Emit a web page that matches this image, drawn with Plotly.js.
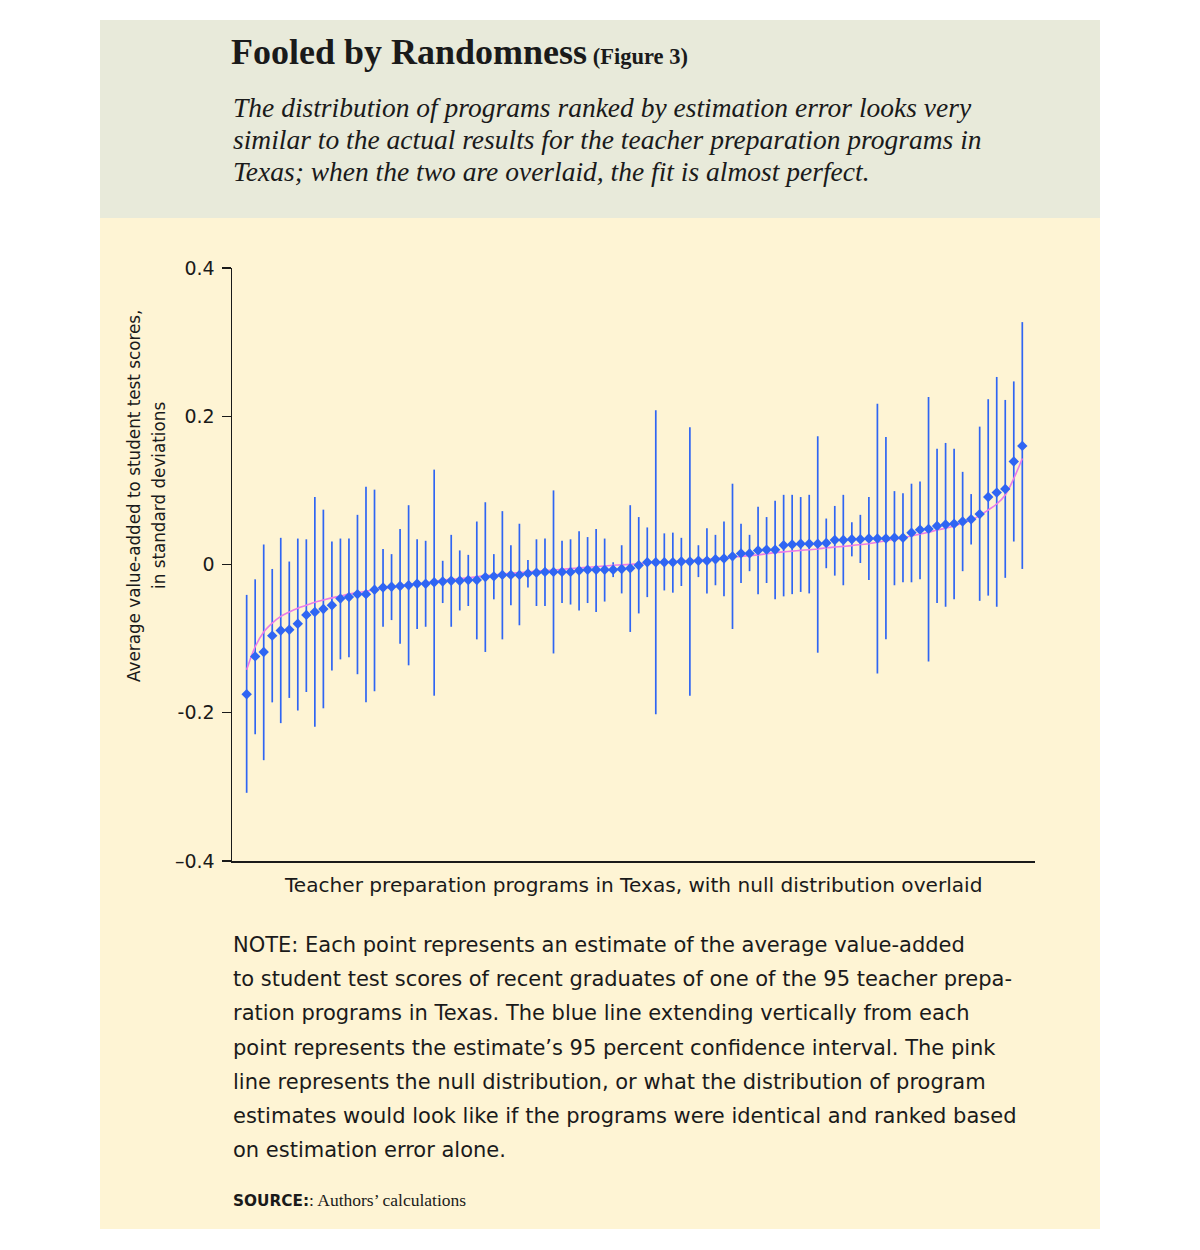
<!DOCTYPE html>
<html>
<head>
<meta charset="utf-8">
<script src="https://cdn.plot.ly/plotly-3.0.1.min.js"></script>
<style>
  html, body { margin: 0; padding: 0; background: #ffffff; }
  #chart { width: 1200px; height: 1250px; }
</style>
</head>
<body>
<div id="chart"></div>
<script>
// ---- Data (95% CI per program, ranked) ----
const programRank = Array.from({length: 92}, (_, i) => i + 1);

const estimate = [
  -0.175, -0.124, -0.118, -0.096, -0.089, -0.088, -0.080, -0.068, -0.064, -0.060,
  -0.055, -0.046, -0.044, -0.040, -0.040, -0.034, -0.031, -0.030, -0.029, -0.028,
  -0.026, -0.026, -0.024, -0.023, -0.022, -0.022, -0.021, -0.021, -0.017, -0.016,
  -0.014, -0.014, -0.014, -0.012, -0.011, -0.010, -0.010, -0.010, -0.010, -0.008,
  -0.007, -0.007, -0.007, -0.007, -0.006, -0.005, -0.001, 0.003, 0.003, 0.003,
  0.003, 0.004, 0.004, 0.005, 0.005, 0.007, 0.008, 0.011, 0.015, 0.015,
  0.019, 0.020, 0.020, 0.026, 0.027, 0.028, 0.028, 0.028, 0.029, 0.033,
  0.033, 0.034, 0.034, 0.035, 0.035, 0.035, 0.036, 0.036, 0.043, 0.047,
  0.048, 0.052, 0.054, 0.055, 0.058, 0.061, 0.068, 0.091, 0.097, 0.102,
  0.139, 0.160
];

const ciUpper = [
  -0.041, -0.020, 0.027, -0.006, 0.036, 0.004, 0.035, 0.034, 0.091, 0.074,
  0.031, 0.035, 0.035, 0.067, 0.105, 0.101, 0.021, 0.014, 0.048, 0.080,
  0.034, 0.032, 0.128, 0.005, 0.040, 0.019, 0.013, 0.058, 0.084, 0.014,
  0.072, 0.026, 0.055, 0.006, 0.034, 0.035, 0.100, 0.032, 0.034, 0.045,
  0.037, 0.048, 0.035, 0.003, 0.026, 0.080, 0.064, 0.050, 0.208, 0.042,
  0.043, 0.036, 0.185, 0.026, 0.049, 0.040, 0.058, 0.109, 0.055, 0.040,
  0.078, 0.064, 0.086, 0.094, 0.094, 0.091, 0.094, 0.173, 0.062, 0.079,
  0.094, 0.057, 0.067, 0.091, 0.217, 0.172, 0.099, 0.096, 0.109, 0.112,
  0.226, 0.156, 0.164, 0.156, 0.125, 0.095, 0.186, 0.223, 0.253, 0.222,
  0.247, 0.327
];

const ciLower = [
  -0.308, -0.229, -0.264, -0.186, -0.214, -0.180, -0.197, -0.172, -0.219, -0.194,
  -0.143, -0.128, -0.125, -0.148, -0.186, -0.171, -0.084, -0.075, -0.107, -0.136,
  -0.087, -0.084, -0.177, -0.052, -0.084, -0.062, -0.056, -0.101, -0.118, -0.047,
  -0.101, -0.055, -0.082, -0.031, -0.056, -0.056, -0.120, -0.052, -0.054, -0.062,
  -0.052, -0.064, -0.050, -0.017, -0.039, -0.091, -0.066, -0.044, -0.202, -0.035,
  -0.038, -0.029, -0.177, -0.017, -0.039, -0.028, -0.043, -0.087, -0.025, -0.009,
  -0.040, -0.025, -0.047, -0.043, -0.040, -0.037, -0.039, -0.119, -0.005, -0.015,
  -0.028, 0.011, 0.002, -0.021, -0.147, -0.101, -0.028, -0.024, -0.024, -0.020,
  -0.131, -0.052, -0.057, -0.047, -0.009, 0.027, -0.049, -0.042, -0.057, -0.018,
  0.031, -0.006
];

const nullDistribution = [
  -0.142, -0.111, -0.091, -0.079, -0.070, -0.064, -0.059, -0.055, -0.051, -0.048,
  -0.045, -0.0425, -0.040, -0.038, -0.036, -0.034, -0.032, -0.031, -0.029, -0.027,
  -0.026, -0.025, -0.023, -0.021, -0.020, -0.019, -0.018, -0.0165, -0.015, -0.014,
  -0.0128, -0.012, -0.011, -0.010, -0.009, -0.0083, -0.0075, -0.0065, -0.0055, -0.0047,
  -0.0038, -0.003, -0.002, -0.001, -0.0005, 0.0002, 0.001, 0.002, 0.003, 0.0034,
  0.004, 0.0048, 0.0055, 0.006, 0.007, 0.008, 0.009, 0.0097, 0.011, 0.012,
  0.013, 0.0145, 0.016, 0.017, 0.018, 0.019, 0.020, 0.021, 0.0225, 0.0236,
  0.0245, 0.0255, 0.027, 0.028, 0.030, 0.032, 0.034, 0.036, 0.0385, 0.041,
  0.0435, 0.0465, 0.049, 0.052, 0.056, 0.060, 0.066, 0.0735, 0.0816, 0.0938,
  0.116, 0.143
];

const yTickVals = [-0.4, -0.2, 0, 0.2, 0.4];
const yTickText = ['\u20130.4', '-0.2', '0', '0.2', '0.4'];

const titleMain = 'Fooled by Randomness';
const titleFig = '(Figure 3)';
const subtitleLines = [
  'The distribution of programs ranked by estimation error looks very',
  'similar to the actual results for the teacher preparation programs in',
  'Texas; when the two are overlaid, the fit is almost perfect.'
];
const yTitleLines = ['Average value-added to student test scores,', 'in standard deviations'];
const xTitle = 'Teacher preparation programs in Texas, with null distribution overlaid';
const noteLines = [
  'NOTE: Each point represents an estimate of the average value-added',
  'to student test scores of recent graduates of one of the 95 teacher prepa-',
  'ration programs in Texas. The blue line extending vertically from each',
  'point represents the estimate\u2019s 95 percent confidence interval. The pink',
  'line represents the null distribution, or what the distribution of program',
  'estimates would look like if the programs were identical and ranked based',
  'on estimation error alone.'
];
const sourceLabel = 'SOURCE:';
const sourceText = ': Authors\u2019 calculations';

// ---- Layout geometry (pixels) ----
const W = 1200, H = 1250;
const L = 232, R = 1035, T = 268, B = 861;
const PW = R - L, PH = B - T;
const px = x => (x - L) / PW;
const py = y => (B - y) / PH;

const BLUE = '#2f65f3';
const PINK = '#e97ce9';
const SANS = '"DejaVu Sans", Roboto, sans-serif';
const SERIF = '"Liberation Serif", "DejaVu Serif", serif';
const INK = '#1a1a1a';

const errPlus = estimate.map((v, i) => ciUpper[i] - v);
const errMinus = estimate.map((v, i) => v - ciLower[i]);

const traces = [
  {
    type: 'scatter', mode: 'markers', x: programRank, y: estimate,
    marker: {size: 1, opacity: 0, color: BLUE},
    error_y: {type: 'data', symmetric: false, array: errPlus, arrayminus: errMinus,
              color: BLUE, thickness: 1.7, width: 0},
    hoverinfo: 'skip', showlegend: false
  },
  {
    type: 'scatter', mode: 'lines', x: programRank, y: nullDistribution,
    line: {color: PINK, width: 1.6, shape: 'spline', smoothing: 1},
    showlegend: false
  },
  {
    type: 'scatter', mode: 'markers', x: programRank, y: estimate,
    marker: {symbol: 'diamond', size: 8, color: BLUE, line: {width: 0}},
    showlegend: false
  }
];

function ann(text, x, y, opts) {
  return Object.assign({
    xref: 'paper', yref: 'paper', x: px(x), y: py(y), text: text,
    showarrow: false, xanchor: 'left', yanchor: 'middle',
    font: {family: SANS, size: 19, color: INK}
  }, opts || {});
}

const annotations = [];
annotations.push(ann('<b>' + titleMain + '</b><span style="font-size:22.5px"><b> ' + titleFig + '</b></span>', 229, 52,
  {font: {family: SERIF, size: 36, color: INK}}));
subtitleLines.forEach((t, i) => {
  annotations.push(ann('<i>' + t + '</i>', 231, 107 + i * 32.5,
    {font: {family: SERIF, size: 27.5, color: INK}}));
});
annotations.push(ann(yTitleLines[0], 134, 496,
  {xanchor: 'center', textangle: -90, font: {family: SANS, size: 16.8, color: INK}}));
annotations.push(ann(yTitleLines[1], 159, 496,
  {xanchor: 'center', textangle: -90, font: {family: SANS, size: 16.8, color: INK}}));
annotations.push(ann(xTitle, 633, 885,
  {xanchor: 'center', font: {family: SANS, size: 20.1, color: INK}}));
noteLines.forEach((t, i) => {
  annotations.push(ann(t, 231, 945 + i * 34.2,
    {font: {family: SANS, size: 21, color: INK}}));
});
annotations.push(ann('<b>' + sourceLabel + '</b><span style="font-family:' + "'Liberation Serif', serif" + ';font-size:17.5px">' + sourceText + '</span>', 231, 1200,
  {font: {family: SANS, size: 15.3, color: INK}}));

const shapes = [
  {type: 'rect', xref: 'paper', yref: 'paper', layer: 'below',
   x0: px(100), x1: px(1100), y0: py(218), y1: py(20),
   fillcolor: '#e8eada', line: {width: 0}},
  {type: 'rect', xref: 'paper', yref: 'paper', layer: 'below',
   x0: px(100), x1: px(1100), y0: py(1229), y1: py(218),
   fillcolor: '#fef4d4', line: {width: 0}}
];

const layout = {
  width: W, height: H,
  margin: {l: L, r: W - R, t: T, b: H - B, pad: 0},
  paper_bgcolor: '#ffffff', plot_bgcolor: 'rgba(0,0,0,0)',
  showlegend: false,
  xaxis: {
    range: [-0.72, 93.49], showgrid: false, zeroline: false,
    showticklabels: false, ticks: '', showline: true,
    linecolor: INK, linewidth: 1.5, fixedrange: true
  },
  yaxis: {
    range: [-0.4, 0.4], showgrid: false, zeroline: false,
    tickvals: yTickVals, ticktext: yTickText,
    ticks: 'outside', ticklen: 9, tickwidth: 1.3, tickcolor: INK,
    showline: true, linecolor: INK, linewidth: 1.5,
    tickfont: {family: SANS, size: 19, color: INK},
    ticklabelstandoff: 3, fixedrange: true
  },
  shapes: shapes,
  annotations: annotations
};

Plotly.newPlot('chart', traces, layout, {displayModeBar: false, staticPlot: true});
</script>
</body>
</html>
